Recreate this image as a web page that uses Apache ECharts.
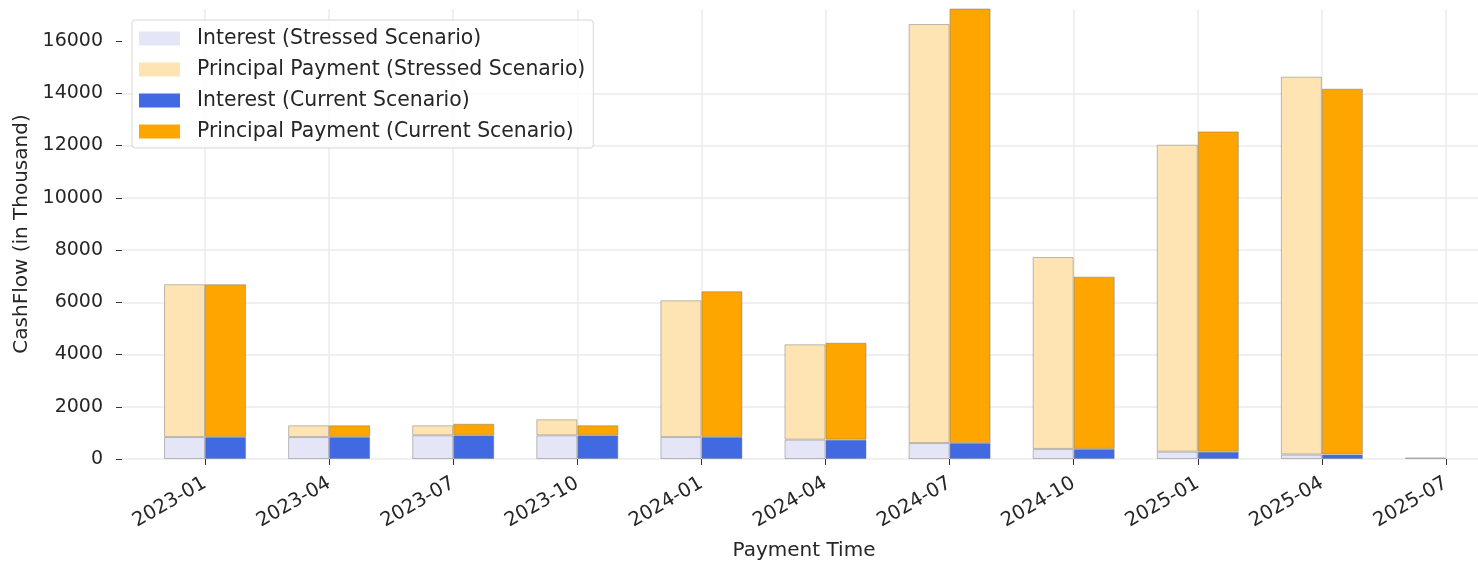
<!DOCTYPE html>
<html>
<head>
<meta charset="utf-8">
<script src="https://cdn.jsdelivr.net/npm/echarts@6/dist/echarts.min.js"></script>
<style>
  html, body { margin: 0; padding: 0; background: #ffffff; }
  #chart { width: 1478px; height: 561px; }
</style>
</head>
<body>
<div id="chart"></div>
<script>
// ---- data (CashFlow in thousand) ----
const categories = ['2023-01','2023-04','2023-07','2023-10','2024-01','2024-04','2024-07','2024-10','2025-01','2025-04','2025-07'];
const interestStressed  = [840, 840, 905, 905, 840, 740, 610, 385, 280, 170, 0];
const principalStressed = [5850, 450, 385, 615, 5235, 3650, 16040, 7345, 11750, 14465, 60];
const interestCurrent   = [840, 840, 905, 905, 840, 740, 610, 385, 280, 170, 0];
const principalCurrent  = [5850, 450, 445, 385, 5580, 3710, 16690, 6595, 12260, 14005, 0];
const yTicks = [0, 2000, 4000, 6000, 8000, 10000, 12000, 14000, 16000];
const Y_MAX = 17225;

const FONT = 'DejaVu Sans';
const TXT = '#262626';
const GRIDC = '#ebebeb';

function vals(arr) {
  return arr.map(v => (v === 0 ? '-' : v));
}

const edge = { borderColor: 'rgba(110,110,110,0.45)', borderWidth: 1 };

function barSeries(name, data, stack, color) {
  return {
    name: name,
    type: 'bar',
    xAxisIndex: 1,
    yAxisIndex: 1,
    stack: stack,
    data: vals(data),
    barWidth: 41,
    barGap: '0%',
    itemStyle: Object.assign({ color: color }, edge),
    emphasis: { disabled: true },
    z: 3
  };
}

const chart = echarts.init(document.getElementById('chart'), null, { renderer: 'canvas' });

const option = {
  backgroundColor: '#ffffff',
  animation: false,
  grid: [
    // frame grid: horizontal grid lines, y tick labels, axis names
    { left: 122, width: 1364, top: 9, bottom: 102, containLabel: false, outerBoundsMode: 'none' },
    // bar grid: category bands 124.1 px wide, centred on the ticks
    { left: 143, width: 1365, top: 9, bottom: 102, containLabel: false, outerBoundsMode: 'none' }
  ],
  legend: {
    orient: 'vertical',
    left: 132,
    top: 20,
    padding: [7, 8, 5, 7],
    itemWidth: 41,
    itemHeight: 14,
    itemGap: 8,
    icon: 'rect',
    backgroundColor: 'rgba(255,255,255,0.85)',
    borderColor: '#d6d6d6',
    borderWidth: 1,
    borderRadius: 3,
    itemStyle: { borderWidth: 0 },
    textStyle: { fontFamily: FONT, fontSize: 20.4, color: TXT, lineHeight: 23, padding: [0, 0, 0, 12] },
    data: ['Interest (Stressed Scenario)', 'Principal Payment (Stressed Scenario)',
           'Interest (Current Scenario)', 'Principal Payment (Current Scenario)'],
    selectedMode: false
  },
  xAxis: [
    {
      gridIndex: 0,
      type: 'value',
      min: 0, max: 1,
      name: 'Payment Time',
      nameLocation: 'middle',
      nameGap: 82,
      nameTextStyle: { fontFamily: FONT, fontSize: 20, color: TXT },
      axisLine: { show: false },
      axisTick: { show: false },
      axisLabel: { show: false },
      splitLine: { show: false }
    },
    {
      gridIndex: 1,
      type: 'category',
      data: categories,
      boundaryGap: true,
      axisLine: { show: false },
      splitLine: { show: false },
      axisTick: { show: true, alignWithLabel: true, interval: 0, length: 6, lineStyle: { color: '#333', width: 1 } },
      axisLabel: {
        interval: 0,
        rotate: 30,
        margin: 23,
        fontFamily: FONT, fontSize: 19.5, color: TXT
      }
    }
  ],
  yAxis: [
    {
      gridIndex: 0,
      type: 'value',
      min: 0,
      max: Y_MAX,
      name: 'CashFlow (in Thousand)',
      nameLocation: 'middle',
      nameGap: 87,
      nameTextStyle: { fontFamily: FONT, fontSize: 20, color: TXT },
      axisLine: { show: false },
      axisTick: { show: true, length: 6, lineStyle: { color: '#333', width: 1 }, customValues: yTicks },
      axisLabel: { customValues: yTicks, margin: 19, fontFamily: FONT, fontSize: 19, color: TXT,
                   formatter: v => String(v) },
      splitLine: { show: true, showMaxLine: false, lineStyle: { color: GRIDC, width: 1.5 } }
    },
    {
      gridIndex: 1,
      type: 'value',
      min: 0,
      max: Y_MAX,
      show: false,
      splitLine: { show: false }
    }
  ],
  series: [
    {
      name: '_vgrid',
      type: 'line',
      xAxisIndex: 1,
      yAxisIndex: 1,
      data: [],
      silent: true,
      z: 1,
      markLine: {
        silent: true,
        z: 1,
        symbol: ['none', 'none'],
        label: { show: false },
        emphasis: { disabled: true },
        lineStyle: { color: GRIDC, width: 1.5, type: 'solid' },
        data: categories.map(c => ({ xAxis: c }))
      }
    },
    barSeries('Interest (Stressed Scenario)', interestStressed, 'stressed', '#e5e5f8'),
    barSeries('Principal Payment (Stressed Scenario)', principalStressed, 'stressed', '#fee3b3'),
    barSeries('Interest (Current Scenario)', interestCurrent, 'current', '#4169e1'),
    barSeries('Principal Payment (Current Scenario)', principalCurrent, 'current', '#ffa500')
  ]
};

chart.setOption(option);
</script>
</body>
</html>
